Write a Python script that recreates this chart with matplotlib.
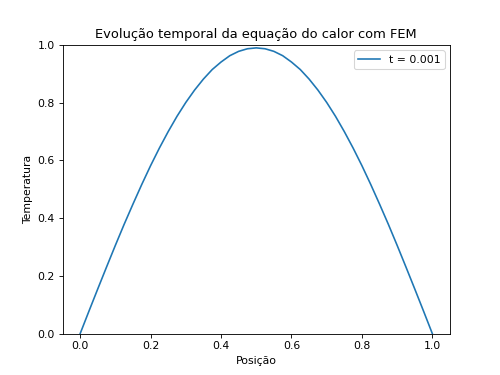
import matplotlib
matplotlib.use("Agg")
import matplotlib.pyplot as plt

# posições dos nós e temperatura (t = 0.001)
posicao = [0.0, 0.025, 0.05, 0.075, 0.10, 0.125, 0.15, 0.175, 0.20, 0.225, 0.25,
           0.275, 0.30, 0.325, 0.35, 0.375, 0.40, 0.425, 0.45, 0.475, 0.50,
           0.525, 0.55, 0.575, 0.60, 0.625, 0.65, 0.675, 0.70, 0.725, 0.75,
           0.775, 0.80, 0.825, 0.85, 0.875, 0.90, 0.925, 0.95, 0.975, 1.0]
temperatura = [0.0, 0.078, 0.155, 0.231, 0.306, 0.379, 0.449, 0.517, 0.582, 0.643, 0.700,
               0.753, 0.801, 0.844, 0.882, 0.915, 0.941, 0.963, 0.978, 0.987, 0.990,
               0.987, 0.978, 0.963, 0.941, 0.915, 0.882, 0.844, 0.801, 0.753, 0.700,
               0.643, 0.582, 0.517, 0.449, 0.379, 0.306, 0.231, 0.155, 0.078, 0.0]
rotulo = "t = 0.001"

fig, ax = plt.subplots(figsize=(6.4, 4.8), dpi=78.125)
ax.plot(posicao, temperatura, label=rotulo)
ax.set_ylim(0, 1)
ax.set_title("Evolução temporal da equação do calor com FEM")
ax.set_xlabel("Posição")
ax.set_ylabel("Temperatura")
ax.legend()
fig.savefig("out.png", dpi=78.125)
